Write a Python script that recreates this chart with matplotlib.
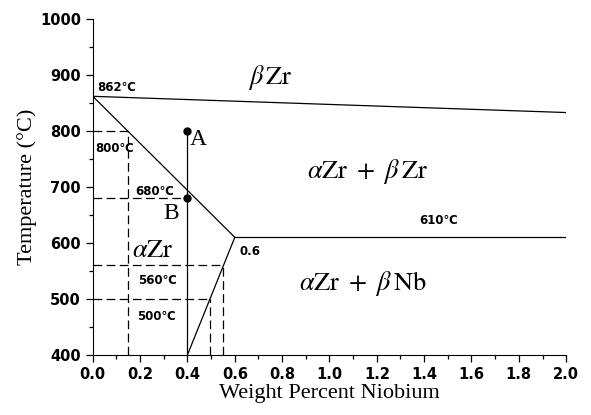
import matplotlib.pyplot as plt
import numpy as np
from matplotlib.ticker import MultipleLocator

plt.rcParams["mathtext.fontset"] = "stix"

# phase boundary data (wt% Nb, temperature in C)
transus_x = [0.0, 2.0]
transus_t = [862, 833]
alpha_x = [0.0, 0.6]
alpha_t = [862, 610]
eutectoid_x = [0.6, 2.0]
eutectoid_t = [610, 610]
solvus_x = [0.6, 0.4]
solvus_t = [610, 400]

# points A and B at 0.4 wt%
pts_x = [0.4, 0.4]
pts_t = [800, 680]
pts_lbl = ["A", "B"]

# dashed guides: (temperature, x where it meets the boundary)
guide_t = [800, 680, 560, 500]
guide_x = [0.148, 0.4, 0.552, 0.495]
guide_drop = [True, False, True, True]

temp_labels = ["862℃", "800℃", "680℃", "560℃", "500℃", "610℃", "0.6"]
temp_lbl_x = [0.02, 0.01, 0.18, 0.19, 0.185, 1.38, 0.62]
temp_lbl_t = [878, 768, 692, 532, 468, 640, 584]

fig = plt.figure(figsize=(5.91, 4.15), dpi=100)
ax = fig.add_axes([0.157, 0.145, 0.801, 0.809])

lw = 0.9
ax.plot(transus_x, transus_t, color="black", lw=lw)
ax.plot(alpha_x, alpha_t, color="black", lw=lw)
ax.plot(eutectoid_x, eutectoid_t, color="black", lw=lw)
ax.plot(solvus_x, solvus_t, color="black", lw=lw)
ax.plot([0.4, 0.4], [400, 800], color="black", lw=lw)

for t, x, drop in zip(guide_t, guide_x, guide_drop):
    ax.plot([0, x], [t, t], color="black", lw=lw, ls=(0, (7, 3.5)))
    if drop:
        ax.plot([x, x], [400, t], color="black", lw=lw, ls=(0, (7, 3.5)))

ax.plot(pts_x, pts_t, "o", color="black", ms=5)

fams = ["DejaVu Sans", "Noto Sans CJK SC"]
for s, x, t in zip(temp_labels, temp_lbl_x, temp_lbl_t):
    ax.text(x, t, s, fontsize=8.5, fontweight="bold", family=fams,
            ha="left", va="center")

serif = "Liberation Serif"
ax.text(0.41, 785, pts_lbl[0], fontsize=17, family=serif, ha="left", va="center")
ax.text(0.3, 652, pts_lbl[1], fontsize=17, family=serif, ha="left", va="center")
ax.text(0.75, 895, r"$\beta\,\mathrm{Zr}$", fontsize=19, ha="center", va="center")
ax.text(1.16, 727, r"$\alpha\mathrm{Zr}\ +\ \beta\,\mathrm{Zr}$", fontsize=19,
        ha="center", va="center")
ax.text(0.255, 588, r"$\alpha\mathrm{Zr}$", fontsize=19, ha="center", va="center")
ax.text(1.14, 527, r"$\alpha\mathrm{Zr}\ +\ \beta\,\mathrm{Nb}$", fontsize=19,
        ha="center", va="center")

ax.set_xlim(0, 2.0)
ax.set_ylim(400, 1000)
ax.xaxis.set_major_locator(MultipleLocator(0.2))
ax.xaxis.set_minor_locator(MultipleLocator(0.1))
ax.yaxis.set_major_locator(MultipleLocator(100))
ax.yaxis.set_minor_locator(MultipleLocator(50))
ax.spines["top"].set_visible(False)
ax.spines["right"].set_visible(False)
ax.tick_params(which="major", direction="out", length=5, width=0.9)
ax.tick_params(which="minor", direction="out", length=3, width=0.9)
for lab in ax.get_xticklabels() + ax.get_yticklabels():
    lab.set_fontweight("bold")
    lab.set_fontsize(10.5)
ax.set_xlabel("Weight Percent Niobium", family=serif, fontsize=16, labelpad=2)
ax.set_ylabel("Temperature (°C)", family=serif, fontsize=16, labelpad=2)

fig.savefig("out.png", dpi=100)
